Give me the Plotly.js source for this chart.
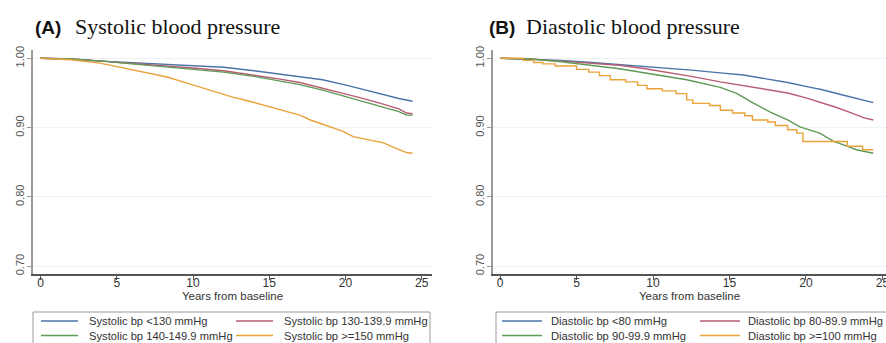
<!DOCTYPE html>
<html>
<head>
<meta charset="utf-8">
<script src="https://cdn.plot.ly/plotly-3.0.1.min.js"></script>
<style>html,body{margin:0;padding:0;background:#fff;}#chart{width:886px;height:343px;}</style>
</head>
<body>
<div id="chart"></div>
<script>
// ---------- Data ----------
const panelTitlesBold = ["(A)", "(B)"];
const panelTitlesText = ["Systolic blood pressure", "Diastolic blood pressure"];
const xAxisTitle = "Years from baseline";
const xTickVals = [0, 5, 10, 15, 20, 25];
const yTickVals = [0.70, 0.80, 0.90, 1.00];
const yTickText = ["0.70", "0.80", "0.90", "1.00"];

const sysNames = ["Systolic bp <130 mmHg", "Systolic bp 130-139.9 mmHg", "Systolic bp 140-149.9 mmHg", "Systolic bp >=150 mmHg"];
const diaNames = ["Diastolic bp <80 mmHg", "Diastolic bp 80-89.9 mmHg", "Diastolic bp 90-99.9 mmHg", "Diastolic bp >=100 mmHg"];
const seriesColors = ["#4a74a8", "#b85c72", "#5f9a55", "#eaa23a"];

// Systolic panel
const sys1T = [0, 2, 4, 6, 8, 10, 12, 14, 15.7, 17, 18.5, 20.1, 21, 22.3, 23.5, 24.4];
const sys1S = [1.000, 0.999, 0.996, 0.994, 0.992, 0.990, 0.987, 0.982, 0.977, 0.974, 0.969, 0.961, 0.956, 0.948, 0.942, 0.938];
const sys2T = [0, 2, 4, 6, 8, 10, 12, 14, 15.7, 17, 18.5, 20.1, 21, 22.3, 23.5, 24, 24.4];
const sys2S = [1.000, 0.999, 0.996, 0.993, 0.990, 0.986, 0.982, 0.976, 0.970, 0.965, 0.957, 0.948, 0.943, 0.935, 0.927, 0.921, 0.920];
const sys3T = [0, 2, 4, 6, 8, 10, 12, 14, 15.7, 17, 18.5, 20.1, 21, 22.3, 23.5, 24, 24.4];
const sys3S = [1.000, 0.999, 0.996, 0.992, 0.989, 0.985, 0.980, 0.974, 0.967, 0.962, 0.954, 0.944, 0.939, 0.931, 0.923, 0.918, 0.918];
const sys4T = [0, 2, 3.9, 5, 6.1, 7.2, 8.3, 9.5, 10.5, 11.5, 12.6, 13.7, 14.8, 16, 17, 17.7, 18.5, 19.2, 19.8, 20.5, 21.5, 22.5, 23, 23.6, 24, 24.4];
const sys4S = [1.000, 0.998, 0.993, 0.988, 0.983, 0.978, 0.973, 0.965, 0.958, 0.951, 0.944, 0.938, 0.931, 0.924, 0.918, 0.911, 0.905, 0.900, 0.895, 0.887, 0.883, 0.878, 0.873, 0.868, 0.864, 0.863];

// Diastolic panel
const dia1T = [0, 2, 4, 6, 7.8, 9.3, 11, 12.5, 14.4, 15.9, 17.5, 18.8, 20.3, 21, 22.4, 23.5, 24.4];
const dia1S = [1.000, 0.999, 0.997, 0.994, 0.991, 0.989, 0.986, 0.983, 0.979, 0.976, 0.970, 0.965, 0.958, 0.955, 0.947, 0.941, 0.936];
const dia2T = [0, 2, 4, 6, 7.8, 9.5, 11, 12.5, 14.4, 16, 17.5, 18.8, 20, 20.9, 22, 23, 23.8, 24.4];
const dia2S = [1.000, 0.999, 0.996, 0.993, 0.990, 0.985, 0.980, 0.974, 0.966, 0.960, 0.955, 0.950, 0.943, 0.937, 0.929, 0.921, 0.914, 0.911];
const dia3T = [0, 2, 4, 6, 7.8, 10, 12.2, 14.4, 15.5, 16.5, 17.7, 18.8, 19.6, 20.9, 21.8, 22.6, 23.3, 24.4];
const dia3S = [1.000, 0.999, 0.995, 0.990, 0.985, 0.977, 0.969, 0.958, 0.949, 0.936, 0.922, 0.911, 0.901, 0.892, 0.880, 0.874, 0.868, 0.863];
const dia4T = [0, 1.5, 2.2, 2.8, 3.6, 5.0, 5.8, 6.5, 7.2, 8.2, 9.0, 9.6, 10.6, 11.5, 12.2, 12.6, 13.7, 14.4, 15.2, 16.0, 16.5, 17.5, 18.0, 18.8, 19.4, 19.8, 22.7, 23.7, 24.4];
const dia4S = [1.000, 0.997, 0.994, 0.992, 0.989, 0.984, 0.980, 0.975, 0.969, 0.966, 0.961, 0.956, 0.953, 0.949, 0.940, 0.935, 0.932, 0.925, 0.921, 0.917, 0.911, 0.908, 0.903, 0.897, 0.892, 0.880, 0.873, 0.868, 0.868];

// ---------- Build ----------
const W = 886, H = 343;
const px = x => x / W;
const py = y => 1 - y / H;

const sysData = [[sys1T, sys1S], [sys2T, sys2S], [sys3T, sys3S], [sys4T, sys4S]];
const diaData = [[dia1T, dia1S], [dia2T, dia2S], [dia3T, dia3S], [dia4T, dia4S]];

const traces = [];
sysData.forEach((d, i) => traces.push({
  x: d[0], y: d[1], type: 'scatter', mode: 'lines', name: sysNames[i],
  line: {color: seriesColors[i], width: 1.4, shape: 'linear'},
  xaxis: 'x', yaxis: 'y', showlegend: false, hoverinfo: 'skip'
}));
diaData.forEach((d, i) => traces.push({
  x: d[0], y: d[1], type: 'scatter', mode: 'lines', name: diaNames[i],
  line: {color: seriesColors[i], width: 1.4, shape: i === 3 ? 'hv' : 'linear'},
  xaxis: 'x2', yaxis: 'y2', showlegend: false, hoverinfo: 'skip'
}));

const yDomain = [py(274), py(50)];
const yRange = [0.6887, 1.012];

function xAx(domain, range) {
  return {
    domain: domain, range: range, showline: true, linecolor: '#555', linewidth: 1.5,
    ticks: 'outside', ticklen: 4, tickcolor: '#555', tickwidth: 1,
    tickvals: xTickVals, ticktext: xTickVals.map(String), ticklabelstandoff: -7,
    ticklabeloverflow: 'allow',
    tickfont: {family: 'Liberation Sans, Arial, sans-serif', size: 12, color: '#333'},
    showgrid: false, zeroline: false, fixedrange: true,
    title: {text: xAxisTitle, standoff: 1, font: {family: 'Liberation Sans, Arial, sans-serif', size: 11.5, color: '#333'}}
  };
}
function yAx(anchor) {
  return {
    domain: yDomain, range: yRange, anchor: anchor, showline: true, linecolor: '#9a9a9a', linewidth: 2,
    ticks: 'outside', ticklen: 4, tickcolor: '#9a9a9a', tickwidth: 1,
    tickvals: yTickVals, ticktext: yTickText, tickangle: -90, ticklabelstandoff: -1,
    tickfont: {family: 'Liberation Sans, Arial, sans-serif', size: 11, color: '#555'},
    showgrid: true, gridcolor: '#edf2f5', gridwidth: 1, zeroline: false, fixedrange: true
  };
}

const annotations = [];
const shapes = [];

// Panel titles
const titleX = [[33, 72.5], [487, 524]];
for (let p = 0; p < 2; p++) {
  annotations.push({xref: 'paper', yref: 'paper', x: px(titleX[p][0]), y: py(28), xanchor: 'left', yanchor: 'middle',
    text: '<b>' + panelTitlesBold[p] + '</b>', showarrow: false,
    font: {family: 'Liberation Sans, Arial, sans-serif', size: 19, color: '#111'}});
  annotations.push({xref: 'paper', yref: 'paper', x: px(titleX[p][1]), y: py(27), xanchor: 'left', yanchor: 'middle',
    text: panelTitlesText[p], showarrow: false,
    font: {family: 'Liberation Serif, Times New Roman, serif', size: 22, color: '#111'}});
}

// Manual legends (box + line samples + labels)
const legendBoxes = [[33, 430], [496, 900]];
const legendCols = [[[41, 78, 87], [236, 273, 282]], [[502, 542, 549], [700, 740, 746]]];
const legendRows = [321, 335.5];
const legendNames = [sysNames, diaNames];
for (let p = 0; p < 2; p++) {
  shapes.push({type: 'rect', xref: 'paper', yref: 'paper', x0: px(legendBoxes[p][0]), x1: px(legendBoxes[p][1]),
    y0: py(312), y1: py(360), line: {color: '#9a9a9a', width: 1}, fillcolor: 'rgba(0,0,0,0)'});
  for (let i = 0; i < 4; i++) {
    const col = legendCols[p][i % 2];
    const row = legendRows[Math.floor(i / 2)];
    shapes.push({type: 'line', xref: 'paper', yref: 'paper', x0: px(col[0]), x1: px(col[1]), y0: py(row), y1: py(row),
      line: {color: seriesColors[i], width: 1.4}});
    annotations.push({xref: 'paper', yref: 'paper', x: px(col[2]), y: py(row), xanchor: 'left', yanchor: 'middle',
      text: legendNames[p][i], showarrow: false,
      font: {family: 'Liberation Sans, Arial, sans-serif', size: 11.2, color: '#333'}});
  }
}

const layout = {
  width: W, height: H,
  margin: {l: 0, r: 0, t: 0, b: 0},
  paper_bgcolor: '#fff', plot_bgcolor: '#fff',
  showlegend: false,
  xaxis: Object.assign(xAx([px(33), px(432)], [-0.49, 25.67]), {anchor: 'y'}),
  yaxis: yAx('x'),
  xaxis2: Object.assign(xAx([px(493), 1], [-0.46, 25.23]), {anchor: 'y2'}),
  yaxis2: yAx('x2'),
  annotations: annotations,
  shapes: shapes
};

Plotly.newPlot('chart', traces, layout, {staticPlot: true, displayModeBar: false});
</script>
</body>
</html>
